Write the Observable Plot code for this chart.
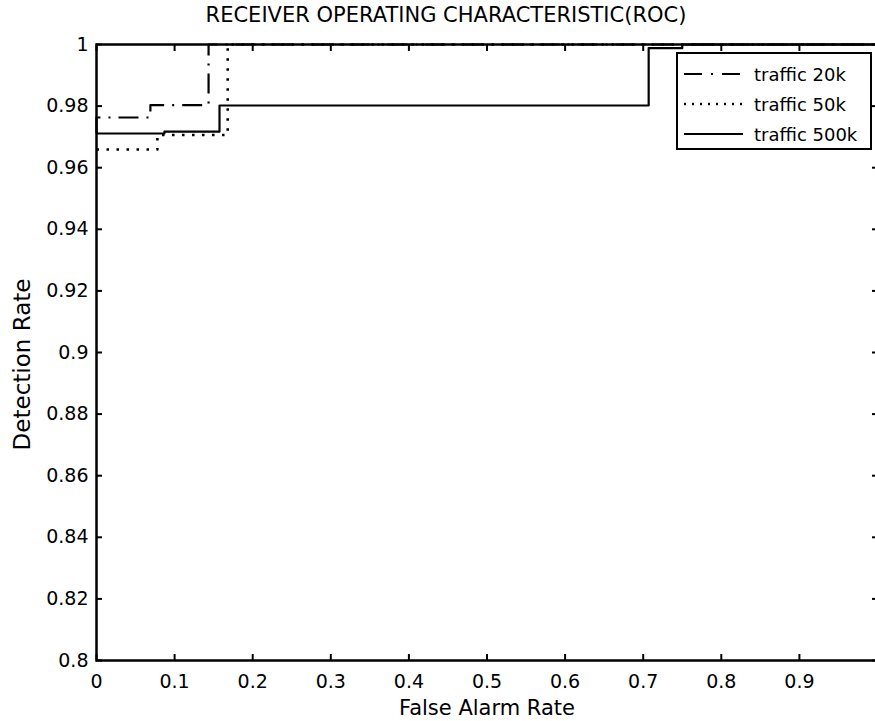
<!DOCTYPE html>
<html>
<head>
<meta charset="utf-8">
<script src="https://cdn.jsdelivr.net/npm/d3@7"></script>
<script src="https://cdn.jsdelivr.net/npm/@observablehq/plot@0.6"></script>
<style>
  body { margin: 0; background: #fff; }
  #wrap { position: relative; width: 875px; height: 721px; background: #fff; font-family: "DejaVu Sans", sans-serif; color: #000; }
  #title { height: 30px; box-sizing: border-box; padding-top: 3px; font-size: 21px; line-height: 24px; white-space: nowrap; position: relative; }
  #title span { position: absolute; left: 446px; transform: translateX(-50%); }
  #legend { position: absolute; left: 676px; top: 52px; width: 196px; height: 98px; box-sizing: border-box; border: 2px solid #000; background: #fff; }
</style>
</head>
<body>
<div id="wrap">
  <div id="title"><span>RECEIVER OPERATING CHARACTERISTIC(ROC)</span></div>
  <div id="chart"></div>
  <div id="legend"></div>
</div>
<script>
// ---- data ----
const seriesNames = ["traffic 20k", "traffic 50k", "traffic 500k"];
const fpr20  = [0, 0,      0.069,  0.1435, 1];
const tpr20  = [0.9711, 0.9763, 0.9803, 1, 1];
const fpr50  = [0, 0.078,  0.168,  1];
const tpr50  = [0.9659, 0.9706, 1, 1];
const fpr500 = [0, 0.087,  0.1575, 0.707,  0.75, 1];
const tpr500 = [0.9711, 0.9717, 0.9802, 0.9988, 1, 1];
const xTicks = [0, 0.1, 0.2, 0.3, 0.4, 0.5, 0.6, 0.7, 0.8, 0.9, 1];
const xTickLabels = ["0", "0.1", "0.2", "0.3", "0.4", "0.5", "0.6", "0.7", "0.8", "0.9", ""];
const yTicks = [0.8, 0.82, 0.84, 0.86, 0.88, 0.9, 0.92, 0.94, 0.96, 0.98, 1];
const yTickLabels = ["0.8", "0.82", "0.84", "0.86", "0.88", "0.9", "0.92", "0.94", "0.96", "0.98", "1"];
const xLabel = "False Alarm Rate";
const yLabel = "Detection Rate";

// ---- styles ----
const styles = {
  "traffic 20k":  {dash: "20,8,2,8", width: 2.2},
  "traffic 50k":  {dash: "2.5,7.5",  width: 2.6},
  "traffic 500k": {dash: null,       width: 2.2}
};

const toRows = (name, xs, ys) => xs.map((x, i) => ({series: name, fpr: x, tpr: ys[i]}));
const data20 = toRows(seriesNames[0], fpr20, tpr20);
const data50 = toRows(seriesNames[1], fpr50, tpr50);
const data500 = toRows(seriesNames[2], fpr500, tpr500);

const xFmt = d => xTickLabels[xTicks.indexOf(d)] ?? "";
const yFmt = d => yTickLabels[yTicks.indexOf(d)] ?? "";

const lineMark = (rows) => {
  const s = styles[rows[0].series];
  const opts = {x: "fpr", y: "tpr", curve: "step-after", stroke: "black", strokeWidth: s.width, strokeLinecap: "butt"};
  if (s.dash) opts.strokeDasharray = s.dash;
  return Plot.line(rows, opts);
};

const chart = Plot.plot({
  width: 875,
  height: 691,
  marginLeft: 96,
  marginRight: -2,
  marginTop: 14,
  marginBottom: 61,
  style: {fontFamily: "DejaVu Sans", fontSize: "19px", color: "black", background: "white", overflow: "visible"},
  x: {domain: [0, 1]},
  y: {domain: [0.8, 1]},
  marks: [
    Plot.axisX({ticks: xTicks, tickFormat: xFmt, tickSize: -6, tickPadding: 20, label: null, strokeWidth: 2}),
    Plot.axisX({anchor: "top", ticks: xTicks, tickFormat: () => "", tickSize: -6, label: null, strokeWidth: 2}),
    Plot.axisY({ticks: yTicks, tickFormat: yFmt, tickSize: -6, tickPadding: 14, label: null, strokeWidth: 2}),
    Plot.axisY({anchor: "right", ticks: yTicks, tickFormat: () => "", tickSize: -6, label: null, strokeWidth: 2}),
    lineMark(data50),
    lineMark(data20),
    lineMark(data500),
    Plot.frame({stroke: "black", strokeWidth: 2.5}),
    Plot.text([xLabel], {frameAnchor: "bottom", lineAnchor: "middle", textAnchor: "middle", dy: 48, fontSize: 21, fill: "black"}),
    Plot.text([yLabel], {frameAnchor: "left", lineAnchor: "middle", textAnchor: "middle", dx: -74, dy: 12, rotate: -90, fontSize: 23, fill: "black"})
  ]
});
document.getElementById("chart").appendChild(chart);

// ---- legend ----
const legendSvg = d3.select("#legend").append("svg")
  .attr("width", 192).attr("height", 94)
  .style("display", "block");
seriesNames.forEach((name, i) => {
  const cy = 20 + i * 30;
  const s = styles[name];
  const ln = legendSvg.append("line")
    .attr("x1", 6).attr("x2", 65).attr("y1", cy).attr("y2", cy)
    .attr("stroke", "black").attr("stroke-width", s.width);
  if (s.dash) ln.attr("stroke-dasharray", name === "traffic 50k" ? "2,6" : "18,9,2,9");
  legendSvg.append("text")
    .attr("x", 76).attr("y", cy + 6.5)
    .attr("font-family", "DejaVu Sans").attr("font-size", 18)
    .attr("fill", "black")
    .text(name);
});
</script>
</body>
</html>
